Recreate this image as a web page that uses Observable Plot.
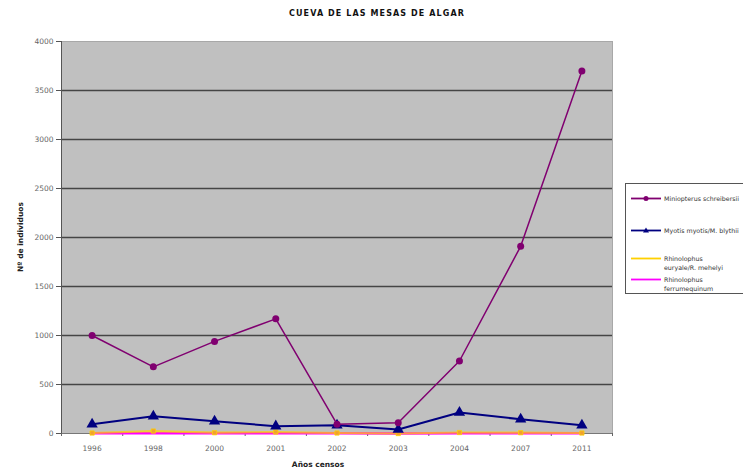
<!DOCTYPE html>
<html>
<head>
<meta charset="utf-8">
<script src="https://cdn.jsdelivr.net/npm/d3@7"></script>
<script src="https://cdn.jsdelivr.net/npm/@observablehq/plot@0.6"></script>
<style>
  html, body { margin: 0; padding: 0; background: #fff; overflow: hidden; }
  #wrap { position: relative; width: 743px; height: 476px; overflow: hidden; font-family: "DejaVu Sans", sans-serif; }
  #chart { position: absolute; left: 0; top: 0; }
  .title { position: absolute; left: 0; width: 754px; top: 9px; text-align: center; font-weight: bold; font-size: 8px; letter-spacing: 1.1px; color: #111; }
  .ylab { position: absolute; left: 20px; top: 237px; transform: translate(-50%, -50%) rotate(-90deg); font-weight: bold; font-size: 7.5px; color: #222; white-space: nowrap; }
  .xlab { position: absolute; left: 318px; top: 460px; transform: translateX(-50%); font-weight: bold; font-size: 7.5px; color: #222; white-space: nowrap; }
  .legend { position: absolute; left: 625px; top: 183px; width: 140px; height: 111px; background: #fff; border: 1px solid #555; box-sizing: border-box; font-size: 6.3px; color: #333; }
  .item { position: absolute; left: 4px; display: flex; align-items: flex-start; }
  .item svg { flex: none; margin-right: 2px; }
  .item span { line-height: 9px; }
</style>
</head>
<body>
<div id="wrap">
  <div id="chart"></div>
  <div class="title">CUEVA DE LAS MESAS DE ALGAR</div>
  <div class="ylab">Nº de individuos</div>
  <div class="xlab">Años censos</div>
  <div class="legend" id="legend"></div>
</div>
<script>
// Categories (census years)
const years = ["1996", "1998", "2000", "2001", "2002", "2003", "2004", "2007", "2011"];
// Series values
const miniopterus = [1000, 680, 940, 1170, 95, 110, 740, 1910, 3700];
const myotis = [95, 175, 125, 75, 85, 40, 215, 145, 85];
const euryale = [5, 25, 8, 15, 5, 0, 10, 8, 5];
const ferrumequinum = [2, 3, 2, 3, 2, 0, 2, 2, 2];
// Series names
const seriesNames = ["Miniopterus schreibersii", "Myotis myotis/M. blythii", "Rhinolophus euryale/R. mehelyi", "Rhinolophus ferrumequinum"];
// Y tick values
const yTicks = [0, 500, 1000, 1500, 2000, 2500, 3000, 3500, 4000];

const colors = ["#800070", "#000080", "#ffd000", "#ff00ff"];
const allValues = [miniopterus, myotis, euryale, ferrumequinum];
const rows = [];
allValues.forEach((vals, s) => vals.forEach((v, i) => rows.push({i, value: v, series: seriesNames[s]})));
const bySeries = name => rows.filter(r => r.series === name);

const boundaries = d3.range(-0.5, years.length, 1);

const plot = Plot.plot({
  width: 743,
  height: 476,
  marginLeft: 61,
  marginRight: 131,
  marginTop: 41,
  marginBottom: 43,
  style: { fontFamily: "DejaVu Sans, sans-serif", fontSize: "7px", color: "#666", background: "transparent" },
  x: { type: "linear", domain: [-0.5, years.length - 0.5] },
  y: { domain: [0, 4000] },
  marks: [
    Plot.frame({ fill: "#c0c0c0", stroke: "#a8a8a8" }),
    Plot.ruleY(yTicks.filter(t => t > 0 && t < 4000), { stroke: "#454545", strokeWidth: 1.6 }),
    Plot.ruleX([-0.5], { stroke: "#555", strokeWidth: 1 }),
    Plot.ruleY([0], { stroke: "#777", strokeWidth: 1 }),
    Plot.axisY({ ticks: yTicks, tickSize: 5, tickPadding: 3, tickFormat: d => String(d), label: null, stroke: "#555", fill: "#666", fontSize: 7.5 }),
    Plot.axisX({ ticks: boundaries, tickSize: 3, tickFormat: () => "", label: null, stroke: "#666" }),
    Plot.axisX({ ticks: d3.range(years.length), tickSize: 0, tickPadding: 12, tickFormat: i => years[i], label: null, fill: "#666", fontSize: 7.5 }),
    // Rhinolophus ferrumequinum
    Plot.line(bySeries(seriesNames[3]), { x: "i", y: "value", stroke: colors[3], strokeWidth: 2.5 }),
    // Rhinolophus euryale/R. mehelyi
    Plot.line(bySeries(seriesNames[2]), { x: "i", y: "value", stroke: colors[2], strokeWidth: 2.2, strokeOpacity: 0.72 }),
    Plot.dot(bySeries(seriesNames[2]), { x: "i", y: "value", symbol: "square", r: 2.4, fill: "#f0a030", stroke: "#ffd000", strokeWidth: 0.8 }),
    // Myotis
    Plot.line(bySeries(seriesNames[1]), { x: "i", y: "value", stroke: colors[1], strokeWidth: 2 }),
    Plot.dot(bySeries(seriesNames[1]), { x: "i", y: "value", symbol: "triangle", r: 4.2, fill: colors[1], stroke: null }),
    // Miniopterus
    Plot.line(bySeries(seriesNames[0]), { x: "i", y: "value", stroke: colors[0], strokeWidth: 1.5 }),
    Plot.dot(bySeries(seriesNames[0]), { x: "i", y: "value", symbol: "circle", r: 3.5, fill: colors[0], stroke: null })
  ]
});
document.getElementById("chart").appendChild(plot);

// Legend
const legendItems = [
  { name: seriesNames[0], color: colors[0], marker: "circle", top: 9.5 },
  { name: seriesNames[1], color: colors[1], marker: "triangle", top: 41.5 },
  { name: "Rhinolophus<br>euryale/R. mehelyi", color: colors[2], marker: "none", top: 69.5 },
  { name: "Rhinolophus<br>ferrumequinum", color: colors[3], marker: "none", top: 90.5 }
];
const legend = document.getElementById("legend");
legendItems.forEach(it => {
  const div = document.createElement("div");
  div.className = "item";
  div.style.top = it.top + "px";
  let m = "";
  if (it.marker === "circle") m = `<circle cx="16" cy="4.5" r="2.5" fill="${it.color}"/>`;
  if (it.marker === "triangle") m = `<path d="M16,1.5 L19,6.5 L13,6.5 Z" fill="${it.color}"/>`;
  div.innerHTML = `<svg width="32" height="9"><line x1="1" x2="31" y1="4.5" y2="4.5" stroke="${it.color}" stroke-width="1.8"/>${m}</svg><span>${it.name}</span>`;
  legend.appendChild(div);
});
</script>
</body>
</html>
